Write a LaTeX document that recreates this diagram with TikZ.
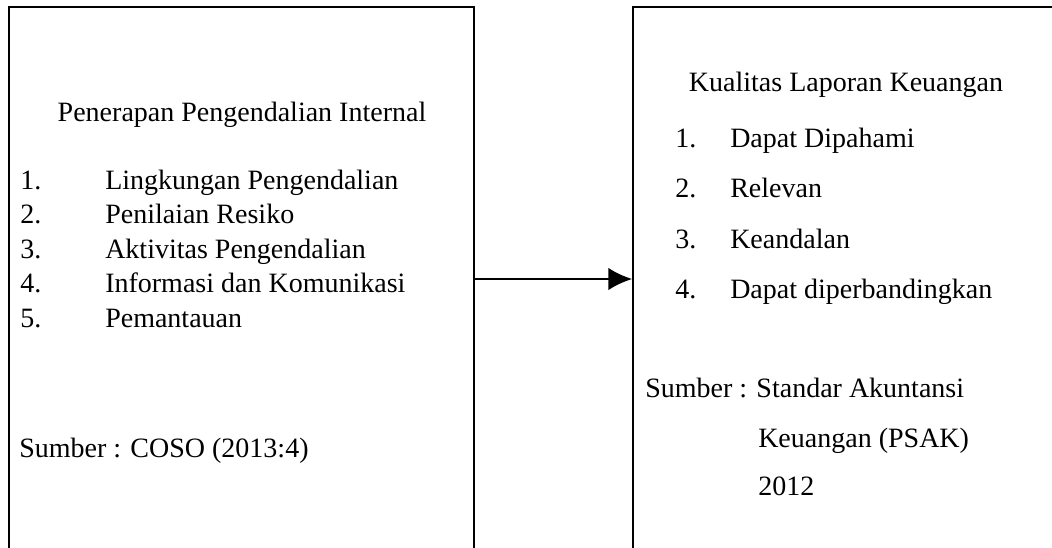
\documentclass[tikz,border=0pt]{standalone}
\usepackage{fontspec}
\setmainfont{Liberation Serif}
\usepackage{tikz}
\usetikzlibrary{arrows.meta,positioning}
\tikzset{
  kotak/.style={rectangle,draw=black,line width=1.1pt,fill=none,inner sep=0pt},
  tx/.style={inner sep=0pt,anchor=base west,font=\fontsize{21}{25}\selectfont},
  jdl/.style={inner sep=0pt,anchor=base,font=\fontsize{21}{25}\selectfont},
  panah/.style={-{Latex[length=18pt,width=17pt]},line width=1.9pt,draw=black},
}

\begin{document}
\begin{tikzpicture}[x=0.75pt,y=-0.75pt]
\clip (0,0) rectangle (1052,547);
% ============================= kotak kiri
\node[kotak,minimum width=348.75pt,minimum height=408pt] (kiri) at (241.5,279) {};
\node[jdl] (jdlA) at (242,121) {Penerapan Pengendalian Internal};
\node[tx] (n1A) at (20,189) {1.};
\node[tx] (i1A) at (105,189) {Lingkungan Pengendalian};
\node[tx] (n2A) at (20,223.5) {2.};
\node[tx] (i2A) at (105,223.5) {Penilaian Resiko};
\node[tx] (n3A) at (20,258) {3.};
\node[tx] (i3A) at (105,258) {Aktivitas Pengendalian};
\node[tx] (n4A) at (20,292.5) {4.};
\node[tx] (i4A) at (105,292.5) {Informasi dan Komunikasi};
\node[tx] (n5A) at (20,327) {5.};
\node[tx] (i5A) at (105,327) {Pemantauan};
\node[tx] (sbA) at (19,457) {Sumber : COSO (2013:4)};
% ============================= kotak kanan
\node[kotak,minimum width=320.25pt,minimum height=408pt] (kanan) at (846.5,279) {};
\node[jdl] (jdlB) at (846,91) {Kualitas Laporan Keuangan};
\node[tx] (n1B) at (675,147) {1.};
\node[tx] (i1B) at (730,147) {Dapat Dipahami};
\node[tx] (n2B) at (675,197) {2.};
\node[tx] (i2B) at (730,197) {Relevan};
\node[tx] (n3B) at (675,248) {3.};
\node[tx] (i3B) at (730,248) {Keandalan};
\node[tx] (n4B) at (675,298) {4.};
\node[tx] (i4B) at (730,298) {Dapat diperbandingkan};
\node[tx] (sbB) at (645,397) {Sumber : Standar Akuntansi};
\node[tx] (sbB2) at (758,447) {Keuangan (PSAK)};
\node[tx] (sbB3) at (758,495) {2012};
% ============================= panah
\draw[panah] (kiri) -- (kanan);
\end{tikzpicture}
\end{document}
